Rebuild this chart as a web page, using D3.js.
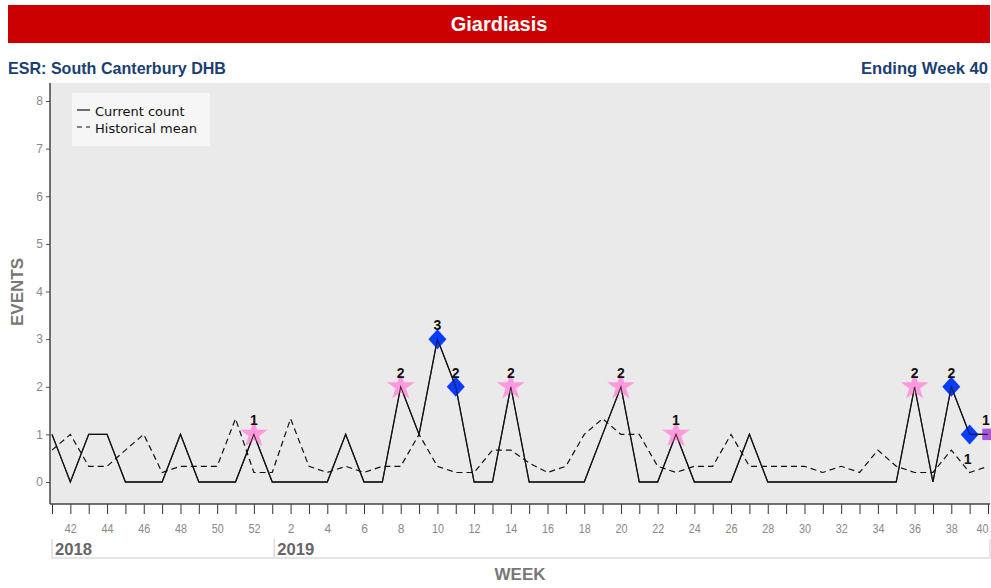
<!DOCTYPE html>
<html>
<head>
<meta charset="utf-8">
<script src="https://cdn.jsdelivr.net/npm/d3@7"></script>
<style>
  html, body { margin: 0; padding: 0; background: #ffffff; }
  svg { display: block; }
</style>
</head>
<body>
<div id="chart"></div>
<script>
// ---- data ----
const title = "Giardiasis";
const subtitleLeft = "ESR: South Canterbury DHB";
const subtitleRight = "Ending Week 40";
const weeks = [41,42,43,44,45,46,47,48,49,50,51,52,
               1,2,3,4,5,6,7,8,9,10,11,12,13,14,15,16,17,18,19,20,
               21,22,23,24,25,26,27,28,29,30,31,32,33,34,35,36,37,38,39,40];
const years = [{label: "2018", firstWeek: 41}, {label: "2019", firstWeek: 1}];
const currentCount = [1,0,1,1,0,0,0,1,0,0,0,1,
                      0,0,0,0,1,0,0,2,1,3,2,0,0,2,0,0,0,0,1,2,
                      0,0,1,0,0,0,1,0,0,0,0,0,0,0,0,2,0,2,1,1];
const historicalMean = [0.67,1.0,0.33,0.33,0.67,1.0,0.2,0.33,0.33,0.33,1.33,0.2,
                        0.2,1.33,0.33,0.2,0.33,0.2,0.33,0.33,1.0,0.33,0.2,0.2,0.67,0.67,0.4,0.2,0.33,1.0,1.33,1.0,
                        1.0,0.33,0.2,0.33,0.33,1.0,0.33,0.33,0.33,0.33,0.2,0.33,0.2,0.67,0.33,0.2,0.2,0.67,0.2,0.33];
// flagged points: index into weeks array and marker type
const flagged = [
  {i: 11, type: "star"}, {i: 19, type: "star"}, {i: 21, type: "diamond"}, {i: 22, type: "diamond"},
  {i: 25, type: "star"}, {i: 31, type: "star"}, {i: 34, type: "star"}, {i: 47, type: "star"},
  {i: 49, type: "diamond"}, {i: 50, type: "diamond"}, {i: 51, type: "square"}
];
const yTicks = [0,1,2,3,4,5,6,7,8];
const legendItems = ["Current count", "Historical mean"];

// ---- layout ----
const W = 991, H = 588;
const plot = {left: 50, right: 990, top: 83, bottom: 504};
const svg = d3.select("#chart").append("svg").attr("width", W).attr("height", H);

const sans = "'Liberation Sans', Arial, sans-serif";

// title bar
svg.append("rect").attr("x", 8).attr("y", 5).attr("width", 982).attr("height", 38).attr("fill", "#cc0000");
svg.append("text").attr("x", 499).attr("y", 31).attr("text-anchor", "middle")
  .attr("fill", "#ffffff").attr("font-family", sans)
  .attr("font-weight", "bold").attr("font-size", 20).text(title);

svg.append("text").attr("x", 8).attr("y", 74).attr("fill", "#1c3f73")
  .attr("font-family", sans).attr("font-weight", "bold").attr("font-size", 17)
  .attr("textLength", 218).attr("lengthAdjust", "spacingAndGlyphs").text(subtitleLeft);
svg.append("text").attr("x", 988).attr("y", 74).attr("text-anchor", "end").attr("fill", "#1c3f73")
  .attr("font-family", sans).attr("font-weight", "bold").attr("font-size", 17)
  .attr("textLength", 127).attr("lengthAdjust", "spacingAndGlyphs").text(subtitleRight);

// plot background
svg.append("rect").attr("x", plot.left).attr("y", plot.top)
  .attr("width", plot.right - plot.left).attr("height", plot.bottom - plot.top).attr("fill", "#eaeaea");

// scales
const x = d3.scaleLinear().domain([0, weeks.length - 1]).range([52, 988]);
const y = d3.scaleLinear().domain([0, 8]).range([482, 101]);

// y axis
const yAxis = svg.append("g").attr("transform", `translate(${plot.left},0)`)
  .call(d3.axisLeft(y).tickValues(yTicks).tickSize(4).tickPadding(3));
yAxis.select(".domain").remove();
yAxis.selectAll(".tick line").attr("stroke", "#555");
yAxis.selectAll(".tick text").attr("fill", "#888").attr("font-size", 12).attr("font-family", sans);
svg.append("line").attr("x1", plot.left).attr("x2", plot.left).attr("y1", plot.top).attr("y2", plot.bottom)
  .attr("stroke", "#444").attr("stroke-width", 1.5);

// x axis
const xAxis = svg.append("g").attr("transform", `translate(0,${plot.bottom})`)
  .call(d3.axisBottom(x).tickValues(d3.range(weeks.length)).tickSize(10).tickPadding(10)
    .tickFormat(i => (weeks[i] % 2 === 0 ? String(weeks[i]) : "")));
xAxis.select(".domain").remove();
xAxis.selectAll(".tick line").attr("stroke", "#333");
xAxis.selectAll(".tick text").attr("fill", "#888").attr("font-size", 12).attr("font-family", sans)
  .attr("textLength", function () { return this.textContent.length > 1 ? 12 : null; })
  .attr("lengthAdjust", "spacingAndGlyphs");
// keep the last label inside the page
xAxis.selectAll(".tick").filter(i => i === weeks.length - 1).select("text").attr("dx", -6);
svg.append("line").attr("x1", plot.left).attr("x2", plot.right).attr("y1", plot.bottom).attr("y2", plot.bottom)
  .attr("stroke", "#444").attr("stroke-width", 1.5);

// year band
const yearBand = svg.append("g");
yearBand.append("path")
  .attr("d", `M52,539 V558 H990 V539`)
  .attr("fill", "none").attr("stroke", "#dddddd").attr("stroke-width", 1.5);
years.forEach((yr, k) => {
  const idx = weeks.indexOf(yr.firstWeek);
  const x0 = k === 0 ? 52 : x(idx) + 2;
  if (k > 0) {
    yearBand.append("line").attr("x1", x0).attr("x2", x0).attr("y1", 539).attr("y2", 558)
      .attr("stroke", "#dddddd").attr("stroke-width", 1.5);
  }
  yearBand.append("text").attr("x", x0 + 3).attr("y", 555).attr("fill", "#666")
    .attr("font-family", sans).attr("font-weight", "bold").attr("font-size", 17)
    .attr("textLength", 37).attr("lengthAdjust", "spacingAndGlyphs").text(yr.label);
});

// axis titles
svg.append("text").attr("x", 520).attr("y", 580).attr("text-anchor", "middle").attr("fill", "#777")
  .attr("font-family", sans).attr("font-weight", "bold").attr("font-size", 17).text("WEEK");
svg.append("text").attr("transform", "translate(23,292) rotate(-90)").attr("text-anchor", "middle").attr("fill", "#777")
  .attr("font-family", sans).attr("font-weight", "bold").attr("font-size", 17).text("EVENTS");

// lines
const line = d3.line().x((d, i) => x(i)).y(d => y(d));
svg.append("path").datum(historicalMean).attr("d", line).attr("fill", "none")
  .attr("stroke", "#111").attr("stroke-width", 1.2).attr("stroke-dasharray", "6,4");
svg.append("path").datum(currentCount).attr("d", line).attr("fill", "none")
  .attr("stroke", "#111").attr("stroke-width", 1.3);

// markers
const colors = {star: "#ff99dd", diamond: "#0a3cff", square: "#aa55dd"};
const mg = svg.append("g");
flagged.forEach(f => {
  const cx = x(f.i), cy = y(currentCount[f.i]);
  if (f.type === "star") {
    mg.append("path").attr("d", d3.symbol().type(d3.symbolStar).size(240)())
      .attr("fill", colors.star).attr("transform", `translate(${cx},${cy})`);
  } else if (f.type === "diamond") {
    mg.append("path").attr("d", "M0,-10 L9,0 L0,10 L-9,0 Z")
      .attr("fill", colors.diamond).attr("transform", `translate(${cx},${cy})`);
  } else {
    mg.append("path").attr("d", d3.symbol().type(d3.symbolSquare).size(130)())
      .attr("fill", colors.square).attr("transform", `translate(${cx},${cy})`);
  }
});
// current line passes over the markers
svg.append("path").datum(currentCount).attr("d", line).attr("fill", "none")
  .attr("stroke", "#111").attr("stroke-width", 1.1).attr("stroke-opacity", 0.8);

// value labels
flagged.forEach((f, k) => {
  const next = flagged[k + 1];
  const below = next && next.i === f.i + 1 && currentCount[next.i] === currentCount[f.i];
  svg.append("text")
    .attr("x", x(f.i) + (below ? -2 : 0) + (f.i === weeks.length - 1 ? -2 : 0))
    .attr("y", y(currentCount[f.i]) + (below ? 30 : -9))
    .attr("text-anchor", "middle").attr("fill", "#111")
    .attr("font-family", sans).attr("font-weight", "bold").attr("font-size", 14)
    .text(currentCount[f.i]);
});

// legend
const lg = svg.append("g");
lg.append("rect").attr("x", 72).attr("y", 93).attr("width", 138).attr("height", 53).attr("fill", "#f6f6f6");
legendItems.forEach((t, k) => {
  const yy = 116 + k * 17;
  lg.append("line").attr("x1", 77).attr("x2", 90).attr("y1", yy - 6).attr("y2", yy - 6)
    .attr("stroke", "#111").attr("stroke-width", 1.2).attr("stroke-dasharray", k === 1 ? "5,4" : null);
  lg.append("text").attr("x", 95).attr("y", yy).attr("fill", "#111")
    .attr("font-family", "'DejaVu Sans', Verdana, sans-serif").attr("font-size", 13).text(t);
});
</script>
</body>
</html>
